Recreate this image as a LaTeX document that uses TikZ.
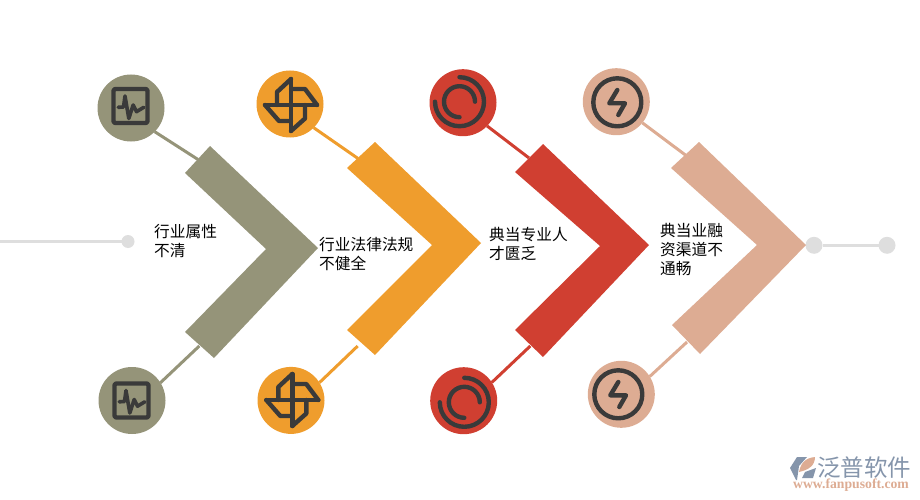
\documentclass[tikz,border=0pt]{standalone}
\usepackage{fontspec}
\newfontfamily\cjk{Noto Sans CJK SC}
\setmainfont{Liberation Serif}
\definecolor{olive}{HTML}{959479}
\definecolor{amber}{HTML}{EF9D2D}
\definecolor{brick}{HTML}{D03F31}
\definecolor{salmon}{HTML}{DDAC93}
\definecolor{ink}{HTML}{3A3A3A}
\definecolor{pale}{HTML}{DEDEDE}
\definecolor{slate}{HTML}{8595AB}
\tikzset{
	disc/.style={circle, minimum size=67pt, inner sep=0pt, outer sep=0pt, fill=#1},
	dot/.style={circle, minimum size=#1, inner sep=0pt, outer sep=0pt, fill=pale},
	stem/.style={line width=3pt, draw=#1},
	label/.style={anchor=west, align=left, inner sep=0pt, font=\cjk\fontsize{15.7}{19}\selectfont},
	glyph/.style={draw=ink, line width=4.4pt, line cap=round, line join=round},
	pulseicon/.pic={
		\draw[glyph, rounded corners=2pt] (-17,-17) rectangle (17,17);
		\draw[glyph, line width=3.6pt] (-12.3,1.3) -- (-7,1) -- (-5.5,-10) -- (-1.7,12.5) -- (2.7,-1) -- (6,5.7) -- (13.3,1.3);
	},
	windicon/.pic={
		\draw[glyph] (0,-26) -- (0,26) (-26,0) -- (26,0);
		\draw[glyph] (0,-26) -- (-14,-13) -- (-14,0);
		\draw[glyph] (0,-16) -- (14,-16) -- (26,0);
		\draw[glyph] (0,26) -- (14,13.5) -- (14,0);
		\draw[glyph] (-26,0) -- (-12,16) -- (0,16);
	},
	ringicon/.pic={
		\draw[glyph] (0,-24.5) arc[start angle=90, end angle=-180, radius=24.5pt];
		\draw[glyph] (15.5,0) arc[start angle=0, end angle=270, radius=15.5pt];
	},
	bolticon/.pic={
		\draw[glyph] (0,0) circle[radius=24pt];
		\draw[glyph] (0,-12.3) -- (-8,1) -- (7.7,1) -- (1,12.7);
	}
}
\begin{document}
\begin{tikzpicture}[x=1pt, y=-1pt]
	\useasboundingbox (0,0) rectangle (920,500);
	\coordinate (lineend) at (0,241.5);
	\node[dot=13pt] (dotin) at (128,241.5) {};
	\draw[stem=pale] (lineend) -- (dotin);
	\node[dot=17pt] (dotmid) at (814,245.3) {};
	\node[dot=17pt] (dotout) at (887,245.3) {};
	\draw[stem=pale] (dotmid) -- (dotout);

	\node[disc=olive] (topa) at (131,108) {};
	\node[disc=amber] (topb) at (290,104) {};
	\node[disc=brick] (topc) at (463,102.7) {};
	\node[disc=salmon] (topd) at (616.3,101.7) {};
	\node[disc=olive] (lowa) at (132,400.5) {};
	\node[disc=amber] (lowb) at (291,400.4) {};
	\node[disc=brick] (lowc) at (463.7,400.7) {};
	\node[disc=salmon] (lowd) at (621.3,394.3) {};

	\coordinate (joina) at (198,159.5);
	\coordinate (joinb) at (358,158.5);
	\coordinate (joinc) at (529,158);
	\coordinate (joind) at (686,155.5);
	\coordinate (jointa) at (199.3,346);
	\coordinate (jointb) at (357.7,346);
	\coordinate (jointc) at (530.3,346);
	\coordinate (jointd) at (687,342);
	\draw[stem=olive] (topa.-45) -- (joina);
	\draw[stem=amber] (topb.-45) -- (joinb);
	\draw[stem=brick] (topc.-44) -- (joinc);
	\draw[stem=salmon] (topd.-39) -- (joind);
	\draw[stem=olive] (lowa.32) -- (jointa);
	\draw[stem=amber] (lowb.32) -- (jointb);
	\draw[stem=brick] (lowc.33) -- (jointc);
	\draw[stem=salmon] (lowd.32) -- (jointd);

	\fill[olive] (210,146) -- (318,248) -- (214,358) -- (185,332) -- (266,249) -- (185,173) -- cycle;
	\fill[amber] (375,142) -- (481,243) -- (375,355) -- (347,330) -- (432,245) -- (347,168) -- cycle;
	\fill[brick] (543,144) -- (649,245) -- (543,357) -- (515,330) -- (600,246) -- (515,172) -- cycle;
	\fill[salmon] (699,142) -- (806,245) -- (700,354) -- (672,325) -- (757,245) -- (671,168) -- cycle;

	\pic at (130.5,106) {pulseicon};
	\pic at (131.5,400.5) {pulseicon};
	\pic at (291,105) {windicon};
	\pic at (292.3,400) {windicon};
	\pic at (459.5,101.7) {ringicon};
	\pic at (464.3,402.3) {ringicon};
	\pic at (617.3,102.3) {bolticon};
	\pic at (618.3,394.3) {bolticon};

	\node[label] (texta) at (154,241.5) {行业属性\\不清};
	\node[label] (textb) at (319,254.5) {行业法律法规\\不健全};
	\node[label] (textc) at (489,243.5) {典当专业人\\才匮乏};
	\node[label] (textd) at (660,249) {典当业融\\资渠道不\\通畅};

	\fill[slate] (790,468) -- (797,457) -- (807,457) -- (799,466) -- (797,480) -- (796,480) -- cycle;
	\fill[salmon] (799,472) .. controls (801,462) and (806,458) .. (815,457) .. controls (815,466) and (808,470) .. (799,472) -- cycle;
	\fill[slate] (802,478) -- (805,472) -- (816,468) -- (813,478) -- cycle;
	\node[anchor=west, inner sep=0pt, text height=20pt, text depth=3pt, text=slate, font=\cjk\fontsize{23.5}{24}\selectfont] (brand) at (817,467.5) {泛普软件};
	\node[anchor=west, inner sep=0pt, text height=8pt, text depth=1pt, text=salmon, font=\bfseries\fontsize{13.7}{14}\selectfont] (site) at (793,484.5) {www.fanpusoft.com};
\end{tikzpicture}
\end{document}
